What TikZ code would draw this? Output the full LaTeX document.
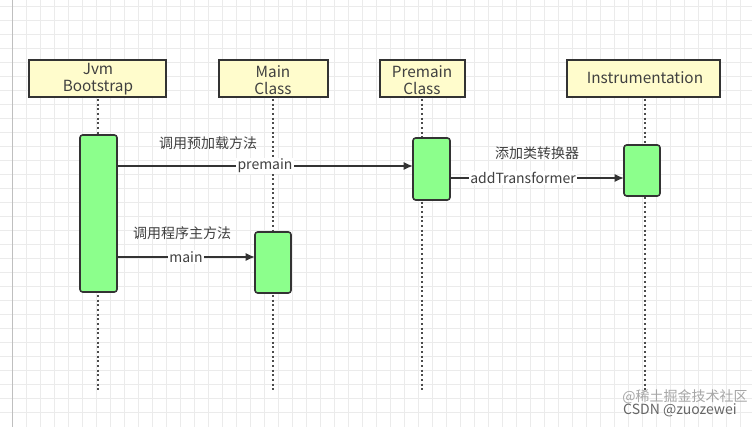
\documentclass[tikz,border=0pt]{standalone}
\usepackage{fontspec}
\setmainfont{Noto Sans CJK SC}
\usetikzlibrary{arrows.meta}
\tikzset{
  head/.style={draw=black!80,line width=1.2pt,fill=yellow!20,align=center,font=\fontsize{11.5}{12.5}\selectfont,text=black!75},
  act/.style={draw=black!80,line width=1.2pt,fill=green!45!white,rounded corners=2pt},
  life/.style={black!70,line width=1.5pt,dotted},
  msg/.style={black!80,line width=1.2pt,-{Latex[length=7pt,width=6pt]}},
  lbl/.style={font=\fontsize{10.5}{12}\selectfont,text=black!75}
}
\begin{document}
\begin{tikzpicture}[x=0.75pt,y=-0.75pt]
                \useasboundingbox (0,0) rectangle (752,427);
                \fill[white] (0,0) rectangle (752,427);
                \foreach \i in {12,26,...,740}
                \draw[black!8] (\i,0) -- (\i,427);
                \foreach \j in {6,20,...,420}
                \draw[black!8] (0,\j) -- (752,\j);
                \draw[black!25] (12,0) -- (12,427);
                
                % heads
                \draw[head] (29,60) rectangle (166,97);
                \node[head,draw=none,fill=none] (jvm) at (98,79) {Jvm\\Bootstrap};
                \draw[head] (219,60) rectangle (328,97);
                \node[head,draw=none,fill=none] (main) at (273,80) {Main\\Class};
                \draw[head] (380,60) rectangle (465,97);
                \node[head,draw=none,fill=none] (pre) at (422,80) {Premain\\Class};
                \draw[head] (567,60) rectangle (720,97);
                \node[head,draw=none,fill=none] (ins) at (645,78) {Instrumentation};
                
                % lifelines
                \foreach \x in {98,273,422,645}
                \draw[life] (\x,99) -- (\x,392);
                
                % activations
                \draw[act] (80,135) rectangle (117,292);
                \draw[act] (255,232) rectangle (291,293);
                \draw[act] (413,138) rectangle (450,200);
                \draw[act] (624,145) rectangle (660,196);
                \coordinate (jvmA) at (117,166);
                \coordinate (preA) at (413,166);
                \coordinate (preB) at (450,178);
                \coordinate (insA) at (624,178);
                \coordinate (jvmB) at (117,257);
                \coordinate (mainA) at (255,257);
                
                % messages
                \draw[msg] (jvmA) -- (preA);
                \node[lbl,fill=white,inner sep=1pt] (m1) at (265,166) {premain};
                \node[lbl] (c1) at (208,143) {调用预加载方法};
                \draw[msg] (preB) -- (insA);
                \node[lbl,fill=white,inner sep=1pt] (m2) at (523,178) {addTransformer};
                \node[lbl] (c2) at (537,153) {添加类转换器};
                \draw[msg] (jvmB) -- (mainA);
                \node[lbl,fill=white,inner sep=1pt] (m3) at (186,257) {main};
                \node[lbl] (c3) at (182,233) {调用程序主方法};
                
                \node[lbl,text=black!35] (w1) at (685,397) {@稀土掘金技术社区};
                \node[lbl,text=black!60] (w2) at (680,410) {CSDN @zuozewei};
            \end{tikzpicture}
\end{document}
